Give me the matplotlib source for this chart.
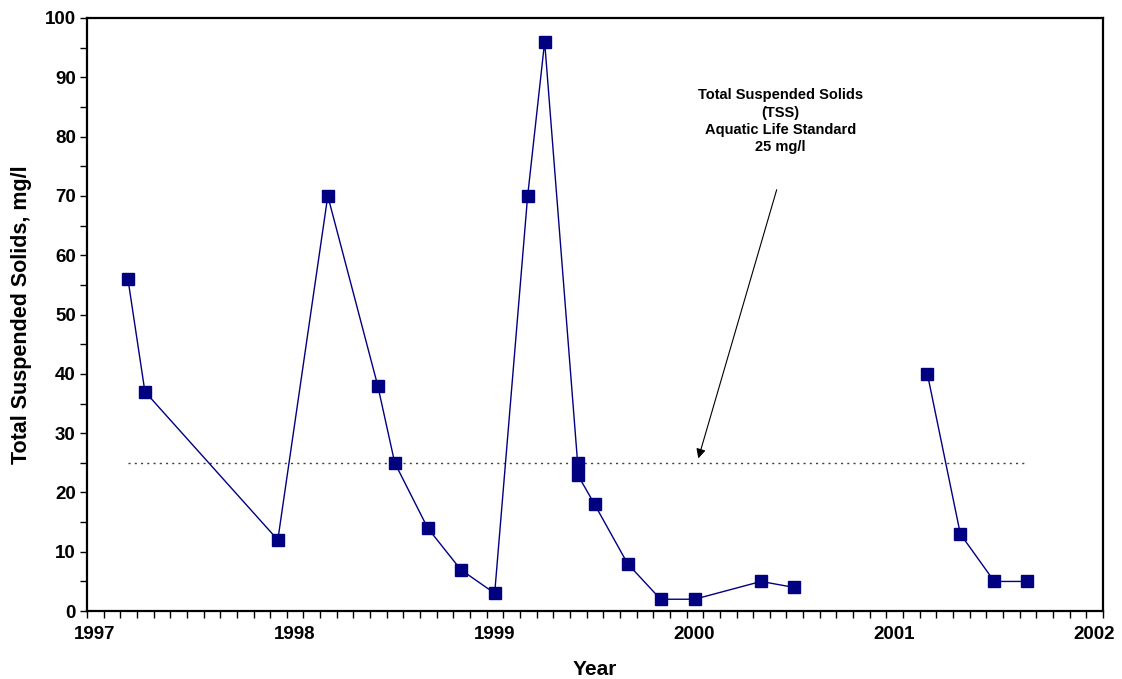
import numpy as np
import matplotlib
matplotlib.use("Agg")
import matplotlib.pyplot as plt
import matplotlib.transforms as mtransforms
from matplotlib.ticker import MultipleLocator

plt.rcParams['font.family'] = ['Liberation Sans', 'DejaVu Sans']
plt.rcParams['font.weight'] = 'bold'

# sampling dates (decimal year) and TSS, mg/l -- first monitoring period
fechas_1 = [1997.205, 1997.290, 1997.955, 1998.205, 1998.455, 1998.540, 1998.705,
            1998.870, 1999.040, 1999.205, 1999.290, 1999.455, 1999.455, 1999.540,
            1999.705, 1999.870, 2000.040, 2000.373, 2000.537]
tss_1 = [56, 37, 12, 70, 38, 25, 14, 7, 3, 70, 96, 25, 23, 18, 8, 2, 2, 5, 4]

# second monitoring period
fechas_2 = [2001.205, 2001.370, 2001.540, 2001.705]
tss_2 = [40, 13, 5, 5]

estandar = 25  # aquatic life standard
estandar_x = [1997.205, 2001.690]
anio_ticks = [1997, 1998, 1999, 2000, 2001, 2002]

fig = plt.figure(figsize=(11.22, 6.79), dpi=100)
ax = fig.add_axes([0.0775, 0.1, 0.9055, 0.8735])

azul = '#000080'
for x, y in [(fechas_1, tss_1), (fechas_2, tss_2)]:
    ax.plot(x, y, color=azul, lw=1.0, marker='s', markersize=8.5,
            markerfacecolor=azul, markeredgecolor=azul, zorder=3)

ax.plot(estandar_x, [estandar, estandar], color='#404040', lw=1.0,
        linestyle=(0, (1.5, 3)), zorder=2)

ax.annotate('', xy=(2000.055, 25.3), xytext=(2000.455, 71.5),
            arrowprops=dict(arrowstyle='-|>', color='black', lw=0.8,
                            mutation_scale=14))
ax.text(2000.47, 82.6, 'Total Suspended Solids\n(TSS)\nAquatic Life Standard\n25 mg/l',
        ha='center', va='center', multialignment='center', fontsize=10.5,
        fontweight='bold', linespacing=1.3)

# eje de fechas: 61 meses, etiquetas de año algo desplazadas como en Excel
ax.set_xlim(1997, 1997 + 61 / 12)
ax.set_ylim(0, 100)
ax.set_xticks(anio_ticks)
ax.xaxis.set_minor_locator(MultipleLocator(1 / 12))
ax.yaxis.set_major_locator(MultipleLocator(10))
ax.yaxis.set_minor_locator(MultipleLocator(5))

for s in ax.spines.values():
    s.set_linewidth(1.6)
ax.tick_params(axis='both', which='major', direction='out', length=5, width=1,
               labelsize=13.5)
ax.tick_params(axis='x', which='major', pad=6)
ax.tick_params(axis='y', which='major', pad=3)
ax.tick_params(axis='both', which='minor', direction='out', length=5, width=1)

desplaza = mtransforms.ScaledTranslation(0.08, 0, fig.dpi_scale_trans)
for lab in ax.get_xticklabels():
    lab.set_transform(lab.get_transform() + desplaza)
for lab in ax.get_xticklabels() + ax.get_yticklabels():
    lab.set_fontweight('bold')

ax.set_xlabel('Year', fontsize=15, fontweight='bold', labelpad=12)
ax.set_ylabel('Total Suspended Solids, mg/l', fontsize=15.5, fontweight='bold', labelpad=9)

fig.savefig('out.png', dpi=100)
